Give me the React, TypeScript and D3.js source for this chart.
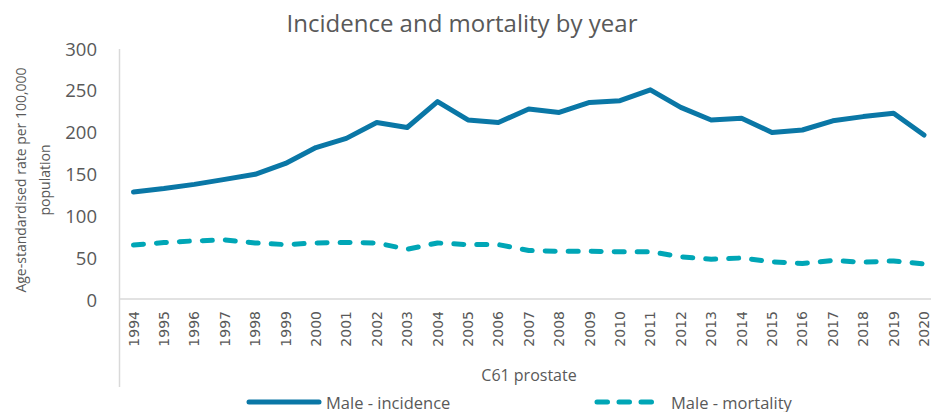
import React from "react";
import * as d3 from "d3";

const years = [1994,1995,1996,1997,1998,1999,2000,2001,2002,2003,2004,2005,2006,2007,2008,2009,2010,2011,2012,2013,2014,2015,2016,2017,2018,2019,2020];
const incidence = [128,132,137,143,149,162,181,192,211,205,236,214,211,227,223,235,237,250,229,214,216,199,202,213,218,222,196];
const mortality = [64.5,67.5,69.5,70.5,67,65,67,67.5,67,59.5,67,65,65,58,57,57,56.5,56.5,50.5,47.5,49,44.5,42.5,46,44,45.5,42];
const yTicks = [0,50,100,150,200,250,300];

const W = 931, H = 412;
const FONT = "'Open Sans', sans-serif";
const TXT = "#595959";
const AXIS = "#d9d9d9";
const C_INC = "#0a77a6";
const C_MOR = "#00a6b6";

export default function App() {
  const x = d3.scalePoint<number>().domain(years).range([133.5, 924]);
  const y = d3.scaleLinear().domain([0, 300]).range([299, 48]);
  const line = d3.line<number>().x((_, i) => x(years[i])!).y(d => y(d));
  return (
    <svg width={W} height={H} style={{ position: "absolute", left: 0, top: 0, background: "#fff" }}>
      <text x={462} y={22} textAnchor="middle" dominantBaseline="central" fontFamily={FONT} fontSize={24} fill={TXT}>
        Incidence and mortality by year
      </text>
      {/* axes */}
      <line x1={119.5} x2={119.5} y1={49} y2={387} stroke={AXIS} strokeWidth={1.5} />
      <line x1={119} x2={931} y1={299} y2={299} stroke={AXIS} strokeWidth={1.5} />
      {yTicks.map(t => (
        <text key={t} x={97} y={y(t)} textAnchor="end" dominantBaseline="central" fontFamily={FONT} fontSize={18.5} fill={TXT}>{t}</text>
      ))}
      <g transform="translate(20,180) rotate(-90)">
        <text x={0} y={0} textAnchor="middle" dominantBaseline="central" fontFamily={FONT} fontSize={14} fill={TXT}>Age-standardised rate per 100,000</text>
        <text x={0} y={24} textAnchor="middle" dominantBaseline="central" fontFamily={FONT} fontSize={14} fill={TXT}>population</text>
      </g>
      {years.map(yr => (
        <text key={yr} transform={`translate(${x(yr)},311) rotate(-90)`} textAnchor="end" dominantBaseline="central" fontFamily="'DejaVu Sans', sans-serif" fontSize={14} fill={TXT}>{yr}</text>
      ))}
      <text x={529} y={375} textAnchor="middle" dominantBaseline="central" fontFamily={FONT} fontSize={16} fill={TXT}>C61 prostate</text>
      {/* lines */}
      <path d={line(incidence)!} fill="none" stroke={C_INC} strokeWidth={5} strokeLinejoin="round" strokeLinecap="round" />
      <path d={line(mortality)!} fill="none" stroke={C_MOR} strokeWidth={5} strokeLinejoin="round" strokeLinecap="round" strokeDasharray="10 13" />
      {/* legend */}
      <line x1={249} x2={319} y1={402} y2={402} stroke={C_INC} strokeWidth={5} strokeLinecap="round" />
      <text x={326} y={402} dominantBaseline="central" fontFamily={FONT} fontSize={16.5} fill={TXT}>Male - incidence</text>
      <line x1={597} x2={660} y1={402} y2={402} stroke={C_MOR} strokeWidth={5} strokeLinecap="round" strokeDasharray="10.5 11.5" />
      <text x={671} y={402} dominantBaseline="central" fontFamily={FONT} fontSize={16.5} fill={TXT}>Male - mortality</text>
    </svg>
  );
}
